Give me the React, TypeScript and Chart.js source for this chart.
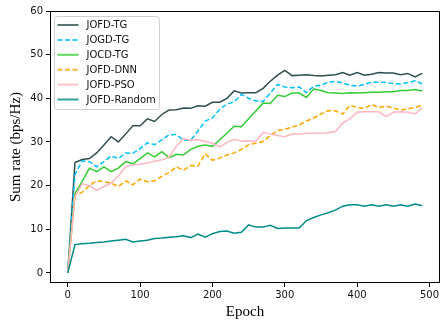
import React, { useEffect, useRef } from "react";
import { Chart, registerables } from "chart.js";

Chart.register(...registerables);

const epochs = [0, 10, 20, 30, 40, 50, 60, 70, 80, 90, 100, 110, 120, 130, 140, 150, 160, 170, 180, 190, 200, 210, 220, 230, 240, 250, 260, 270, 280, 290, 300, 310, 320, 330, 340, 350, 360, 370, 380, 390, 400, 410, 420, 430, 440, 450, 460, 470, 480, 490];

const jofdTG = [0, 25.3, 26.0, 26.2, 27.5, 29.3, 31.2, 30.0, 31.8, 33.7, 33.7, 35.3, 34.7, 36.3, 37.3, 37.4, 37.8, 37.7, 38.3, 38.2, 39.1, 39.1, 40.0, 41.7, 41.2, 41.3, 41.3, 42.3, 43.9, 45.3, 46.4, 45.2, 45.3, 45.4, 45.2, 45.1, 45.3, 45.4, 45.9, 45.3, 45.9, 45.3, 45.5, 45.9, 45.8, 45.8, 45.4, 45.7, 44.9, 45.7];
const jogdTG = [0, 22.5, 25.7, 25.5, 24.3, 25.5, 26.8, 26.2, 27.5, 27.4, 28.5, 29.8, 29.4, 30.5, 31.6, 31.7, 30.4, 30.4, 32.5, 34.8, 35.5, 37.5, 38.7, 39.2, 40.9, 40.0, 39.4, 39.3, 41.2, 43.2, 42.6, 42.4, 42.6, 41.3, 42.8, 43.0, 43.7, 43.9, 43.5, 43.0, 42.8, 43.2, 43.7, 43.7, 43.6, 43.4, 43.3, 43.6, 44.0, 43.3];
const jocdTG = [0, 18.2, 21.0, 24.0, 23.2, 24.3, 23.2, 24.0, 25.5, 25.0, 26.2, 27.5, 26.6, 27.8, 26.4, 27.2, 27.0, 28.3, 29.0, 29.3, 29.0, 30.5, 32.0, 33.6, 33.5, 35.3, 37.1, 38.9, 38.8, 40.7, 40.4, 41.2, 41.2, 40.2, 42.2, 41.8, 41.3, 41.2, 41.1, 41.3, 41.2, 41.3, 41.4, 41.4, 41.5, 41.5, 41.8, 41.8, 42.0, 41.7];
const jofdDNN = [0, 17.7, 18.5, 20.0, 21.1, 20.9, 20.6, 19.8, 21.1, 20.2, 21.5, 20.9, 21.1, 22.1, 23.0, 24.3, 23.5, 24.6, 24.5, 27.3, 25.8, 26.3, 27.0, 27.5, 28.3, 29.4, 29.7, 30.1, 31.5, 32.6, 32.9, 33.4, 33.9, 34.8, 35.5, 36.4, 37.2, 37.1, 36.4, 38.4, 37.9, 37.7, 38.6, 37.9, 38.2, 37.8, 37.3, 37.6, 37.9, 38.5];
const jofdPSO = [0, 17.5, 20.4, 20.0, 18.9, 19.8, 20.6, 22.2, 24.3, 24.8, 24.9, 25.2, 25.6, 25.9, 26.5, 29.0, 30.8, 30.4, 30.5, 30.1, 29.7, 28.9, 29.9, 30.6, 30.2, 30.3, 30.1, 32.2, 31.8, 31.5, 31.2, 31.8, 31.8, 32.0, 32.0, 32.0, 32.1, 32.4, 34.3, 35.3, 36.8, 36.9, 36.9, 36.9, 35.8, 36.8, 36.9, 36.8, 36.4, 37.8];
const jofdRandom = [0, 6.5, 6.7, 6.8, 7.0, 7.1, 7.3, 7.5, 7.7, 7.1, 7.3, 7.5, 7.9, 8.0, 8.2, 8.3, 8.5, 8.1, 8.9, 8.2, 9.0, 9.5, 9.6, 9.1, 9.3, 11.0, 10.5, 10.5, 10.9, 10.2, 10.3, 10.3, 10.3, 12.0, 12.7, 13.3, 13.8, 14.4, 15.3, 15.6, 15.6, 15.3, 15.6, 15.3, 15.6, 15.3, 15.6, 15.3, 15.8, 15.4];

const seriesNames = ["JOFD-TG", "JOGD-TG", "JOCD-TG", "JOFD-DNN", "JOFD-PSO", "JOFD-Random"];
const seriesValues = [jofdTG, jogdTG, jocdTG, jofdDNN, jofdPSO, jofdRandom];
const seriesColors = ["#2f4f4f", "#00bfff", "#32cd32", "#ffa500", "#ffb6c1", "#008b8b"];
const seriesDashed = [false, true, false, true, false, false];

const xTicks = [0, 100, 200, 300, 400, 500];
const yTicks = [0, 10, 20, 30, 40, 50, 60];
const xTitle = "Epoch";
const yTitle = "Sum rate (bps/Hz)";

const DASH = [5, 2.5];

const framePlugin = {
  id: "frameLegend",
  afterDatasetsDraw(chart: any) {
    const { ctx, chartArea } = chart;
    ctx.save();
    // frame
    ctx.strokeStyle = "#000";
    ctx.lineWidth = 1;
    ctx.strokeRect(
      Math.round(chartArea.left) + 0.5,
      Math.round(chartArea.top) + 0.5,
      Math.round(chartArea.right - chartArea.left) - 1,
      Math.round(chartArea.bottom - chartArea.top) - 1
    );
    // legend
    const bx = chartArea.left + 4.5;
    const by = chartArea.top + 5.5;
    const bw = 105;
    const bh = 93;
    const r = 3;
    ctx.beginPath();
    ctx.moveTo(bx + r, by);
    ctx.lineTo(bx + bw - r, by);
    ctx.arcTo(bx + bw, by, bx + bw, by + r, r);
    ctx.lineTo(bx + bw, by + bh - r);
    ctx.arcTo(bx + bw, by + bh, bx + bw - r, by + bh, r);
    ctx.lineTo(bx + r, by + bh);
    ctx.arcTo(bx, by + bh, bx, by + bh - r, r);
    ctx.lineTo(bx, by + r);
    ctx.arcTo(bx, by, bx + r, by, r);
    ctx.closePath();
    ctx.fillStyle = "rgba(255,255,255,0.85)";
    ctx.fill();
    ctx.strokeStyle = "#d0d0d0";
    ctx.stroke();
    ctx.font = "10px 'DejaVu Sans'";
    ctx.textBaseline = "middle";
    ctx.textAlign = "left";
    seriesNames.forEach((name, i) => {
      const y = by + 8.5 + i * 14.9;
      ctx.save();
      ctx.globalAlpha = 0.8;
      ctx.strokeStyle = seriesColors[i];
      ctx.lineWidth = 2;
      ctx.setLineDash(seriesDashed[i] ? DASH : []);
      ctx.beginPath();
      ctx.moveTo(bx + 3, y);
      ctx.lineTo(bx + 24, y);
      ctx.stroke();
      ctx.restore();
      ctx.fillStyle = "#111";
      ctx.fillText(name, bx + 32, y + 0.5);
    });
    ctx.restore();
  },
};

export default function App() {
  const ref = useRef<HTMLCanvasElement | null>(null);

  useEffect(() => {
    document.body.style.margin = "0";
    const canvas = ref.current;
    if (!canvas) return;
    const datasets = seriesNames.map((name, i) => ({
      label: name,
      data: epochs.map((e, j) => ({ x: e, y: seriesValues[i][j] })),
      borderColor: seriesColors[i],
      backgroundColor: seriesColors[i],
      borderWidth: 1.5,
      borderDash: seriesDashed[i] ? DASH : [],
      pointRadius: 0,
      tension: 0,
      fill: false,
      order: seriesNames.length - i,
    }));
    const tickFont = { family: "'DejaVu Sans'", size: 10 };
    const titleFont = { family: "'Liberation Serif'", size: 15 };
    const chart = new Chart(canvas, {
      type: "line",
      data: { datasets },
      plugins: [framePlugin],
      options: {
        animation: false,
        responsive: false,
        devicePixelRatio: 1,
        layout: { padding: { top: 11, right: 7, left: 0, bottom: 0 } },
        plugins: { legend: { display: false }, tooltip: { enabled: false } },
        scales: {
          x: {
            type: "linear",
            min: -24.5,
            max: 514.5,
            afterBuildTicks: (s: any) => {
              s.ticks = xTicks.map((v) => ({ value: v }));
            },
            afterFit: (s: any) => {
              s.height = 42;
            },
            grid: { display: true, drawOnChartArea: false, drawTicks: true, tickLength: 4, tickColor: "#000", color: "#000" },
            border: { display: false },
            ticks: { font: tickFont, color: "#111", padding: 2, maxRotation: 0 },
            title: { display: true, text: xTitle, font: titleFont, color: "#000", padding: { top: 0, bottom: 4.3 } },
          },
          y: {
            type: "linear",
            min: -2.3,
            max: 60,
            afterBuildTicks: (s: any) => {
              s.ticks = yTicks.map((v) => ({ value: v }));
            },
            afterFit: (s: any) => {
              s.width = 50;
            },
            grid: { display: true, drawOnChartArea: false, drawTicks: true, tickLength: 4, tickColor: "#000", color: "#000" },
            border: { display: false },
            ticks: { font: tickFont, color: "#111", padding: 3 },
            title: { display: true, text: yTitle, font: titleFont, color: "#000", padding: { top: 6.7, bottom: 0 } },
          },
        },
      },
    } as any);
    return () => chart.destroy();
  }, []);

  return (
    <div style={{ position: "absolute", left: 0, top: 0, width: 447, height: 325 }}>
      <canvas ref={ref} width={447} height={325} style={{ display: "block", width: 447, height: 325 }} />
    </div>
  );
}
